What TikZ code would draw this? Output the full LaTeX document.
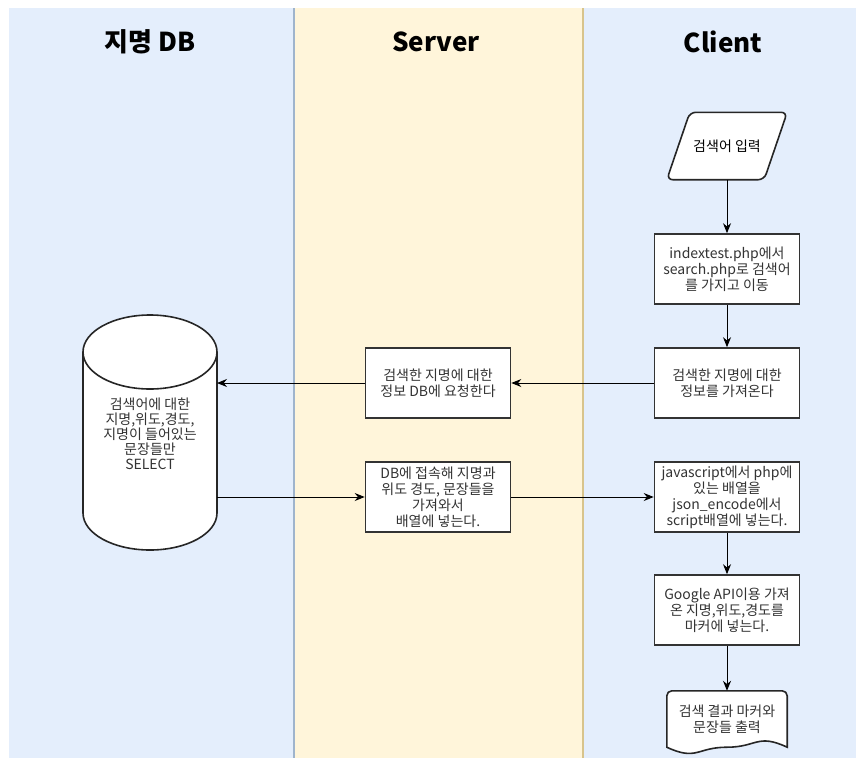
\documentclass[tikz,border=0pt]{standalone}
\usepackage{fontspec}
\setmainfont{Noto Sans CJK KR}
\usetikzlibrary{arrows.meta,positioning}

\definecolor{dblane}{HTML}{E4EEFC}
\definecolor{srvlane}{HTML}{FFF5DA}
\definecolor{dbedge}{HTML}{9FB4CC}
\definecolor{srvedge}{HTML}{D8C48C}

\tikzset{
  boxtext/.style={align=center, text=black!80, font=\fontsize{14}{16}\selectfont},
  proc/.style={boxtext, draw=black!80, line width=1.6pt, fill=white,
    minimum width=145pt, minimum height=70pt, inner sep=2pt},
  flow/.style={-{Stealth[length=10pt,width=8pt]}, line width=1pt},
  lanetitle/.style={font=\fontsize{26}{30}\selectfont\bfseries},
  outline/.style={draw=black!85, line width=1.6pt, fill=white}
}

\begin{document}
\begin{tikzpicture}[x=1pt,y=-1pt]
  \useasboundingbox (0,0) rectangle (856,758);

  % swimlanes
  \fill[dblane] (9,8) rectangle (294,758);
  \fill[srvlane] (294,8) rectangle (583,758);
  \fill[dblane] (583,8) rectangle (856,758);
  \draw[dbedge, line width=2pt] (294,8) -- (294,758);
  \draw[srvedge, line width=2pt] (583,8) -- (583,758);

  \node[lanetitle] (dbtitle) at (150,42) {지명 DB};
  \node[lanetitle] (srvtitle) at (436,42) {Server};
  \node[lanetitle] (clititle) at (723,42) {Client};

  % database cylinder
  \coordinate (dbside) at (217,432);
  \filldraw[outline] (83,352) -- (83,513)
    arc[start angle=180, end angle=360, x radius=67pt, y radius=37pt]
    -- (217,352)
    arc[start angle=0, end angle=180, x radius=67pt, y radius=37pt] -- cycle;
  \draw[outline, fill=none] (83,352)
    arc[start angle=180, end angle=360, x radius=67pt, y radius=37pt];
  \node[boxtext, font=\fontsize{14}{15}\selectfont] (db) at (150,434)
    {검색어에 대한\\지명,위도,경도,\\지명이 들어있는\\문장들만\\SELECT};

  % client side
  \node[minimum width=120pt, minimum height=67pt] (query) at (727,146) {};
  \filldraw[outline, rounded corners=6pt] (query.south west)
    -- ([xshift=23pt]query.north west) -- (query.north east)
    -- ([xshift=-23pt]query.south east) -- cycle;
  \node[boxtext, text=black] (querytext) at (query) {검색어 입력};
  \node[proc] (move) at (727,269) {indextest.php에서\\search.php로 검색어\\를 가지고 이동};
  \node[proc] (fetch) at (727,383) {검색한 지명에 대한\\정보를 가져온다};
  \node[proc] (toarray) at (727,497) {javascript에서 php에\\있는 배열을\\json\_encode에서\\script배열에 넣는다.};
  \node[proc] (marker) at (727,610) {Google API이용 가져\\온 지명,위도,경도를\\마커에 넣는다.};

  % output document
  \node[minimum width=120pt, minimum height=56pt] (result) at (727,719) {};
  \filldraw[outline] (result.south west) [rounded corners=5pt] -- (result.north west)
    -- (result.north east) [sharp corners] -- (result.south east)
    .. controls +(-30,-14) and +(30,0) .. (result.south)
    .. controls +(-30,0) and +(30,14) .. (result.south west) -- cycle;
  \node[boxtext] (resulttext) at (result) {검색 결과 마커와\\문장들 출력};

  % server side
  \node[proc] (request) at (438,383) {검색한 지명에 대한\\정보 DB에 요청한다};
  \node[proc] (load) at (438,497) {DB에 접속해 지명과\\위도 경도, 문장들을\\가져와서\\배열에 넣는다.};

  % flow
  \draw[flow] (query) -- (move);
  \draw[flow] (move) -- (fetch);
  \draw[flow] (fetch) -- (request);
  \draw[flow] (request.west) -- (request.west -| dbside);
  \draw[flow] (dbside |- load.west) -- (load.west);
  \draw[flow] (load) -- (toarray);
  \draw[flow] (toarray) -- (marker);
  \draw[flow] (marker) -- (result.north);
\end{tikzpicture}
\end{document}
